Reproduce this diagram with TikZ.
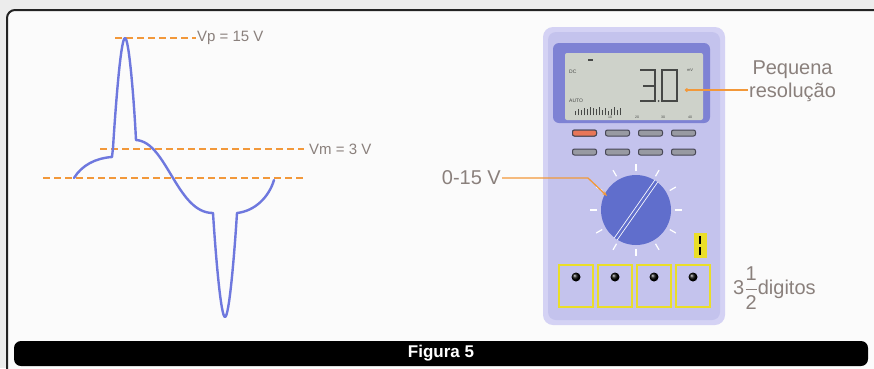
\documentclass[tikz,border=0pt]{standalone}
\usepackage{amsmath}
\usepackage{fontspec}
\setmainfont{Liberation Sans}
\usepackage{tikz}
\usetikzlibrary{positioning,arrows.meta}

\definecolor{bggray}{RGB}{236,236,236}
\definecolor{paper}{RGB}{251,251,251}
\definecolor{framecol}{RGB}{35,35,35}
\definecolor{orng}{RGB}{242,152,58}
\definecolor{wblue}{RGB}{110,120,222}
\definecolor{txtgray}{RGB}{138,128,124}
\definecolor{rimcol}{RGB}{212,210,244}
\definecolor{bodycol}{RGB}{196,195,237}
\definecolor{bezel}{RGB}{126,130,212}
\definecolor{lcd}{RGB}{206,210,202}
\definecolor{segcol}{RGB}{70,72,70}
\definecolor{dialblue}{RGB}{96,110,204}
\definecolor{keygray}{RGB}{152,154,162}
\definecolor{keyred}{RGB}{232,118,88}
\definecolor{keyedge}{RGB}{70,70,84}
\definecolor{jackyel}{RGB}{234,222,40}

\begin{document}
\begin{tikzpicture}[x=1pt,y=-1pt,
		wave/.style={draw=wblue,line width=2.4pt,line join=round,line cap=round},
		guide/.style={draw=orng,line width=1.3pt,dash pattern=on 7pt off 4pt},
		lead/.style={draw=orng,line width=1.3pt},
		lbl/.style={text=txtgray,inner sep=1pt},
		small/.style={lbl,font=\fontsize{15}{17}\selectfont},
		big/.style={lbl,font=\fontsize{20}{22}\selectfont},
		lcdtxt/.style={text=segcol,inner sep=0pt,font=\fontsize{5}{6}\selectfont},
		key/.style={draw=keyedge,line width=1pt,fill=keygray,rounded corners=2pt,
			minimum width=24pt,minimum height=6pt,inner sep=0pt},
		jack/.style={draw=jackyel,line width=1.4pt,minimum width=34pt,minimum height=42pt,inner sep=0pt},
		dialmark/.style={draw=white,line width=1.2pt}]
	\useasboundingbox (0,0) rectangle (874,368);
	\fill[bggray] (0,0) rectangle (874,368);
	\draw[framecol,fill=paper,line width=2pt,rounded corners=8pt] (7,10) rectangle (900,400);
	\node[fill=black,rounded corners=7pt,minimum width=854pt,minimum height=25pt,
		text=white,font=\bfseries\fontsize{17}{19}\selectfont] (cap) at (441,353.5) {Figura 5};

	% signal and its levels
	\coordinate (zl) at (43,178);
	\coordinate (zr) at (304,178);
	\coordinate (ml) at (100,149);
	\coordinate (pl) at (115,38);
	\node[small,anchor=west] (vp) at (196,38) {Vp = 15 V};
	\node[small,anchor=west] (vm) at (308,149) {Vm = 3 V};
	\draw[guide] (zl) -- (zr);
	\draw[guide,shorten >=4pt] (ml) -- (vm.west);
	\draw[guide] (pl) -- (vp.west);
	\draw[wave] (74,178) .. controls (82,165) and (96,158) .. (112,157) -- (113,148)
		.. controls (116,100) and (121,38) .. (125,38)
		.. controls (129,38) and (134,100) .. (136,140)
		.. controls (152,141) and (162,160) .. (173,178)
		.. controls (185,198) and (196,213) .. (213,213)
		.. controls (216,260) and (221,317) .. (225,317)
		.. controls (229,317) and (234,260) .. (237,213)
		.. controls (255,211) and (269,197) .. (274,180);

	% multimeter
	\fill[rimcol,rounded corners=10pt] (543,27) rectangle (725,325);
	\fill[bodycol,rounded corners=8pt] (548,32) rectangle (720,320);
	\fill[bezel,rounded corners=6pt] (553,43) rectangle (710,123);
	\fill[lcd,rounded corners=2pt] (565,53) rectangle (703,120);
	\fill[segcol] (588,59) rectangle (593,61);
	\node[lcdtxt,anchor=west] (dc) at (569,72) {DC};
	\node[lcdtxt,anchor=west] (auto) at (569,101) {AUTO};
	\node[lcdtxt,font=\fontsize{4}{5}\selectfont] (mv) at (690,70) {mV};
	\foreach \x/\h in {575/4,578/6,581/5,584/7,587/6,590/8,593/7,596/6,599/8,602/5,605/7,608/4,611/6,614/8,617/5,620/7}
		\draw[segcol,line width=0.5pt] (\x,115) -- (\x,115-\h);
	\foreach \x/\t in {610/10,637/20,663/30,690/40}
		\node[lcdtxt,font=\fontsize{3.5}{4}\selectfont] (bar\t) at (\x,117) {\t};
	\draw[segcol,line width=1.5pt] (640,70) -- (655,70) -- (655,101) -- (640,101) (643,86) -- (655,86);
	\fill[segcol] (658.5,101) circle (1pt);
	\draw[segcol,line width=1.5pt] (662,70) rectangle (677,101);
	\coordinate (rd) at (685,90);
	\node[big,anchor=west] (res) at (748,92) {resolução};
	\node[big,above=2pt of res] (pq) {Pequena};
	\draw[lead,{Circle[length=3.5pt]}-] (rd) -- (rd -| res.west);

	\foreach \i in {0,...,3}{
		\node[key] (ka\i) at (584.5+33*\i,133) {};
		\node[key] (kb\i) at (584.5+33*\i,152) {};
	}
	\node[key,fill=keyred] at (ka0) {};

	\node[circle,fill=dialblue,minimum size=70pt,inner sep=0pt] (dial) at (636,210) {};
	\foreach \a in {0,30,...,330}
		\draw[dialmark] (dial.center)+(\a:39) -- +(\a:46);
	\draw[white,line width=0.8pt,double=dialblue,double distance=2.6pt] (dial.235) -- (dial.55);
	\node[big,anchor=east] (rng) at (502,178) {0-15 V};
	\coordinate (sel) at (607,196);
	\draw[lead,-{Stealth[length=5pt]}] (rng.east) -- ++(86,0) -- (sel);

	\node[fill=jackyel,minimum width=13pt,minimum height=25pt,inner sep=0pt] (sw) at (700,245.5) {};
	\draw[black,line width=1.4pt] (700,236) -- (700,244) (700,247) -- (700,255);
	\foreach \i in {0,...,3}{
		\node[jack] (j\i) at (576+39*\i,286) {};
		\shade[ball color=black] (576+39*\i,277) circle (4.5pt);
	}
	\node[big,anchor=west] (dig) at (732,288) {3$\dfrac{\text{1}}{\text{2}}$digitos};
\end{tikzpicture}
\end{document}
